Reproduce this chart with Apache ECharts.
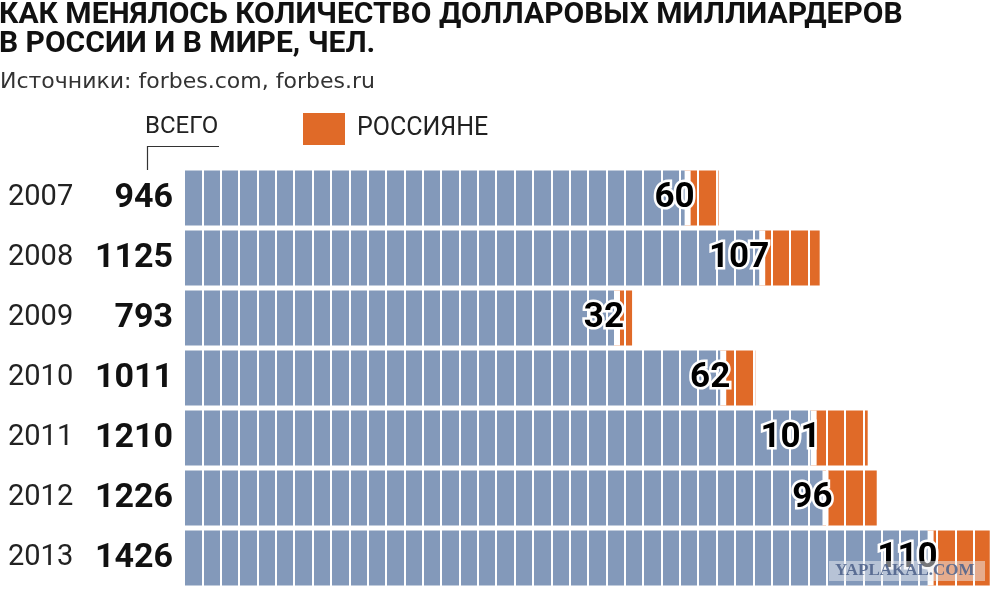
<!DOCTYPE html>
<html>
<head>
<meta charset="utf-8">
<script src="https://cdn.jsdelivr.net/npm/echarts@6/dist/echarts.min.js"></script>
<style>
html,body{margin:0;padding:0;background:#fff;}
#chart{width:1000px;height:601px;}
</style>
</head>
<body>
<div id="chart"></div>
<script>
const years = ['2007','2008','2009','2010','2011','2012','2013'];
const totals = [946, 1125, 793, 1011, 1210, 1226, 1426];
const russians = [60, 107, 32, 62, 101, 96, 110];

const others = totals.map((t, i) => t - russians[i]);
const labelPoints = others.map((v, i) => [v, years[i]]);

const chart = echarts.init(document.getElementById('chart'));
const FONT = 'Roboto, "Noto Sans", sans-serif';

chart.setOption({
  backgroundColor: '#fff',
  animation: false,
  title: [
    {
      text: 'КАК МЕНЯЛОСЬ КОЛИЧЕСТВО ДОЛЛАРОВЫХ МИЛЛИАРДЕРОВ\nВ РОССИИ И В МИРЕ, ЧЕЛ.',
      left: -1, top: 1, padding: 0,
      textStyle: { fontFamily: FONT, fontSize: 30, fontWeight: 'bold', color: '#111', lineHeight: 29 }
    },
    {
      text: 'Источники: forbes.com, forbes.ru',
      left: 0, top: 71, padding: 0,
      textStyle: { fontFamily: '"DejaVu Sans", sans-serif', fontSize: 22, fontWeight: 'normal', color: '#333' }
    }
  ],
  legend: {
    data: ['РОССИЯНЕ'],
    icon: 'rect',
    left: 303, top: 113, padding: 0,
    itemWidth: 42, itemHeight: 32,
    selectedMode: false,
    textStyle: { fontFamily: FONT, fontSize: 25, color: '#222', padding: [0, 0, 0, 7] }
  },
  graphic: [
    {
      type: 'text', left: 145, top: 115,
      style: { text: 'ВСЕГО', font: '24px ' + FONT, fill: '#222' }
    },
    {
      type: 'polyline',
      shape: { points: [[219, 146.5], [147.5, 146.5], [147.5, 170]] },
      style: { stroke: '#333', lineWidth: 1.2, fill: null }
    },
    {
      type: 'rect', z: 100,
      shape: { x: 829, y: 561, width: 156, height: 20 },
      style: { fill: 'rgba(235,238,242,0.5)' }
    },
    {
      type: 'text', z: 101, left: 835, top: 562,
      style: { text: 'YAPLAKAL.COM', font: 'bold 17px "Liberation Serif", "DejaVu Serif", serif', fill: 'rgba(80,100,140,0.9)' }
    }
  ],
  grid: { left: 184, right: 8, top: 168, bottom: 13, containLabel: false },
  xAxis: {
    type: 'value', min: 0, max: 1430, interval: 32.5,
    z: 10,
    axisLine: { show: false }, axisTick: { show: false }, axisLabel: { show: false },
    splitLine: { show: true, lineStyle: { color: '#fff', width: 2 } }
  },
  yAxis: {
    type: 'category', data: years, inverse: true,
    axisLine: { show: false }, axisTick: { show: false },
    axisLabel: {
      margin: 11,
      formatter: function (v, i) { return '{y|' + v + '}{t|' + totals[i] + '}'; },
      rich: {
        y: { fontFamily: FONT, fontSize: 29, color: '#222', width: 95, align: 'left' },
        t: { fontFamily: FONT, fontSize: 34, fontWeight: 'bold', color: '#111', width: 70, align: 'right' }
      }
    }
  },
  series: [
    {
      name: 'ВСЕГО', type: 'bar', stack: 'a', data: others, barWidth: 55, z: 3,
      itemStyle: { color: '#8399ba', shadowColor: '#fff', shadowBlur: 0, shadowOffsetX: 6 }
    },
    {
      name: 'РОССИЯНЕ', type: 'bar', stack: 'a', data: russians, barWidth: 55, z: 2,
      itemStyle: { color: '#e06a28' }
    },
    {
      name: 'labels', type: 'scatter', data: labelPoints, symbolSize: 0, z: 12,
      silent: true,
      itemStyle: { opacity: 1 },
      label: {
        show: true, position: 'left', distance: -10,
        formatter: function (p) { return String(russians[p.dataIndex]); },
        fontFamily: FONT, fontSize: 35, fontWeight: 'bold', color: '#000',
        textBorderColor: '#fff', textBorderWidth: 5
      }
    }
  ]
});
</script>
</body>
</html>
